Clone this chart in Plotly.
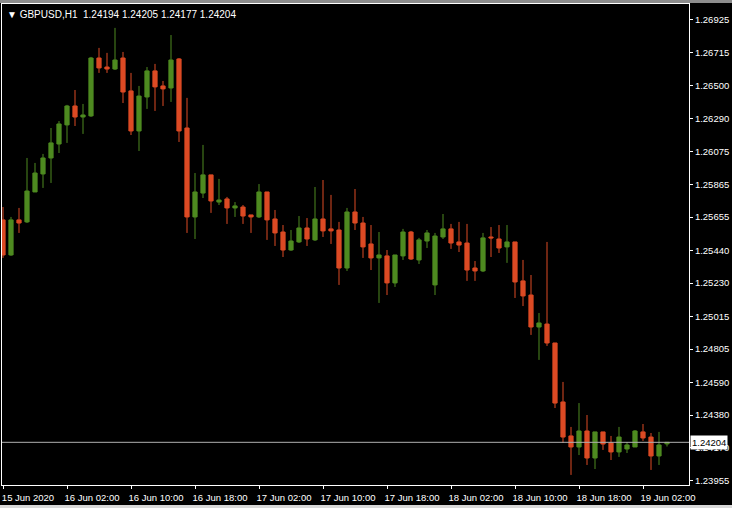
import pandas as pd
import plotly.graph_objects as go

symbol_title = "GBPUSD,H1  1.24194 1.24205 1.24177 1.24204"
start_time = "2020-06-15 18:00"

opens = [1.25637, 1.25411, 1.25637, 1.25624, 1.25817, 1.25933, 1.26036, 1.26126, 1.26249, 1.26371,
         1.26300, 1.26307, 1.26680, 1.26622, 1.26609, 1.26680, 1.26468, 1.26210, 1.26429, 1.26597,
         1.26500, 1.26487, 1.26674, 1.26229, 1.25656, 1.25810, 1.25927, 1.25752, 1.25772, 1.25714,
         1.25720, 1.25669, 1.25656, 1.25817, 1.25643, 1.25559, 1.25443, 1.25495, 1.25585, 1.25508,
         1.25643, 1.25579, 1.25572, 1.25327, 1.25688, 1.25617, 1.25482, 1.25392, 1.25405, 1.25231,
         1.25405, 1.25559, 1.25379, 1.25501, 1.25218, 1.25527, 1.25579, 1.25495, 1.25488, 1.25327,
         1.25308, 1.25527, 1.25514, 1.25463, 1.25495, 1.25244, 1.25153, 1.24947, 1.24966, 1.24844,
         1.24464, 1.24245, 1.24174, 1.24277, 1.24103, 1.24271, 1.24200, 1.24142, 1.24161, 1.24174,
         1.24271, 1.24238, 1.24116, 1.24194]
highs = [1.25720, 1.25656, 1.25714, 1.26036, 1.26004, 1.26062, 1.26229, 1.26274, 1.26378, 1.26474,
         1.26384, 1.26687, 1.26745, 1.26713, 1.26874, 1.26719, 1.26584, 1.26500, 1.26622, 1.26642,
         1.26532, 1.26828, 1.26680, 1.26423, 1.25939, 1.26120, 1.25927, 1.25901, 1.25785, 1.25752,
         1.25733, 1.25669, 1.25868, 1.25817, 1.25701, 1.25604, 1.25572, 1.25662, 1.25649, 1.25849,
         1.25894, 1.25798, 1.25624, 1.25714, 1.25836, 1.25656, 1.25604, 1.25559, 1.25443, 1.25411,
         1.25579, 1.25566, 1.25521, 1.25572, 1.25553, 1.25675, 1.25611, 1.25624, 1.25611, 1.25372,
         1.25553, 1.25591, 1.25604, 1.25604, 1.25495, 1.25379, 1.25282, 1.25037, 1.25495, 1.24844,
         1.24593, 1.24303, 1.24457, 1.24380, 1.24271, 1.24271, 1.24245, 1.24303, 1.24206, 1.24283,
         1.24322, 1.24264, 1.24271, 1.24205]
lows = [1.25392, 1.25405, 1.25553, 1.25617, 1.25817, 1.25843, 1.25875, 1.26068, 1.26133, 1.26242,
        1.26191, 1.26300, 1.26584, 1.26584, 1.26603, 1.26390, 1.26184, 1.26081, 1.26352, 1.26339,
        1.26371, 1.26397, 1.26139, 1.25553, 1.25514, 1.25778, 1.25682, 1.25733, 1.25611, 1.25656,
        1.25611, 1.25553, 1.25649, 1.25508, 1.25469, 1.25398, 1.25437, 1.25488, 1.25469, 1.25501,
        1.25527, 1.25482, 1.25218, 1.25308, 1.25572, 1.25392, 1.25314, 1.25102, 1.25153, 1.25205,
        1.25379, 1.25379, 1.25353, 1.25456, 1.25153, 1.25514, 1.25450, 1.25430, 1.25244, 1.25244,
        1.25301, 1.25398, 1.25424, 1.25360, 1.25134, 1.25082, 1.24896, 1.24735, 1.24825, 1.24425,
        1.24200, 1.23994, 1.24122, 1.24058, 1.24032, 1.24155, 1.24090, 1.24110, 1.24135, 1.24174,
        1.24213, 1.24026, 1.24058, 1.24177]
closes = [1.25411, 1.25637, 1.25617, 1.25823, 1.25939, 1.26036, 1.26133, 1.26255, 1.26371, 1.26300,
          1.26313, 1.26680, 1.26616, 1.26609, 1.26667, 1.26461, 1.26210, 1.26435, 1.26597, 1.26494,
          1.26481, 1.26667, 1.26210, 1.25656, 1.25817, 1.25927, 1.25759, 1.25765, 1.25714, 1.25727,
          1.25662, 1.25656, 1.25817, 1.25637, 1.25553, 1.25443, 1.25501, 1.25585, 1.25514, 1.25643,
          1.25566, 1.25566, 1.25327, 1.25688, 1.25617, 1.25463, 1.25392, 1.25411, 1.25231, 1.25411,
          1.25559, 1.25385, 1.25508, 1.25553, 1.25533, 1.25579, 1.25488, 1.25475, 1.25314, 1.25308,
          1.25521, 1.25521, 1.25456, 1.25495, 1.25237, 1.25147, 1.24947, 1.24973, 1.24844, 1.24457,
          1.24238, 1.24174, 1.24277, 1.24103, 1.24271, 1.24193, 1.24142, 1.24238, 1.24187, 1.24277,
          1.24232, 1.24116, 1.24187, 1.24204]

current_price = 1.24204

x_tick_times = ["2020-06-15 18:00", "2020-06-16 02:00", "2020-06-16 10:00", "2020-06-16 18:00",
                "2020-06-17 02:00", "2020-06-17 10:00", "2020-06-17 18:00", "2020-06-18 02:00",
                "2020-06-18 10:00", "2020-06-18 18:00", "2020-06-19 02:00"]
x_tick_labels = ["15 Jun 2020", "16 Jun 02:00", "16 Jun 10:00", "16 Jun 18:00", "17 Jun 02:00",
                 "17 Jun 10:00", "17 Jun 18:00", "18 Jun 02:00", "18 Jun 10:00", "18 Jun 18:00",
                 "19 Jun 02:00"]
y_tick_values = [1.26925, 1.26715, 1.26500, 1.26290, 1.26075, 1.25865, 1.25655, 1.25440,
                 1.25230, 1.25015, 1.24805, 1.24590, 1.24380, 1.24170, 1.23955]

times = pd.date_range(start_time, periods=len(opens), freq="h")
bar_index = list(range(len(opens)))
tick_positions = [times.get_loc(pd.Timestamp(t)) for t in x_tick_times]

GREEN = "#4e8a20"
RED = "#dc4a24"
FONT = "Liberation Sans"

fig = go.Figure()
fig.add_trace(go.Candlestick(
    x=bar_index, open=opens, high=highs, low=lows, close=closes,
    increasing=dict(fillcolor=GREEN, line=dict(color=GREEN, width=1)),
    decreasing=dict(fillcolor=RED, line=dict(color=RED, width=1)),
    whiskerwidth=0, hoverinfo="skip", showlegend=False,
))

fig.add_shape(type="line", xref="paper", x0=0, x1=1, yref="y", y0=current_price, y1=current_price,
              line=dict(color="#b0b0b0", width=1))
# window borders
fig.add_shape(type="rect", xref="paper", yref="paper", x0=-0.01, x1=1.1, y0=1.0021, y1=1.02,
              fillcolor="#8c8c8c", line=dict(width=0), layer="above")
fig.add_shape(type="rect", xref="paper", yref="paper", x0=-0.01, x1=1.1, y0=-0.06, y1=-0.0416,
              fillcolor="#d8d8d8", line=dict(width=0), layer="above")

fig.add_annotation(xref="paper", yref="y", x=1, y=current_price, xanchor="left", yanchor="middle",
                   xshift=1, text=f"{current_price:.5f}", showarrow=False,
                   bgcolor="white", font=dict(family=FONT, size=9.5, color="black"),
                   borderpad=1)
fig.add_annotation(xref="paper", yref="paper", x=0, y=1, xanchor="left", yanchor="top",
                   xshift=3, yshift=-3, text="▼ " + symbol_title, showarrow=False,
                   font=dict(family=FONT, size=10, color="white"))

fig.update_layout(
    width=732, height=508,
    margin=dict(l=2, r=43, t=4, b=23, autoexpand=False),
    paper_bgcolor="black", plot_bgcolor="black",
    boxgap=0.25,
    showlegend=False,
    xaxis=dict(
        range=[-0.125, 85.75], rangeslider=dict(visible=False),
        tickvals=tick_positions, ticktext=x_tick_labels,
        ticks="outside", ticklen=3, tickcolor="white",
        showline=True, linecolor="white", linewidth=1, mirror=True,
        showgrid=False, zeroline=False, automargin=False,
        tickfont=dict(family=FONT, size=9.5, color="white"),
        ticklabelshift=25, ticklabelstandoff=1,
    ),
    yaxis=dict(
        side="right", range=[1.23929, 1.27028],
        tickvals=y_tick_values, ticktext=[f"{v:.5f}" for v in y_tick_values],
        ticks="outside", ticklen=3, tickcolor="white",
        showline=True, linecolor="white", linewidth=1, mirror=True,
        showgrid=False, zeroline=False, automargin=False,
        tickfont=dict(family=FONT, size=9.5, color="white"),
    ),
)

fig.write_html("out.html", config={"displayModeBar": False},
               post_script="document.body.style.margin='0px';document.body.style.overflow='hidden';")
